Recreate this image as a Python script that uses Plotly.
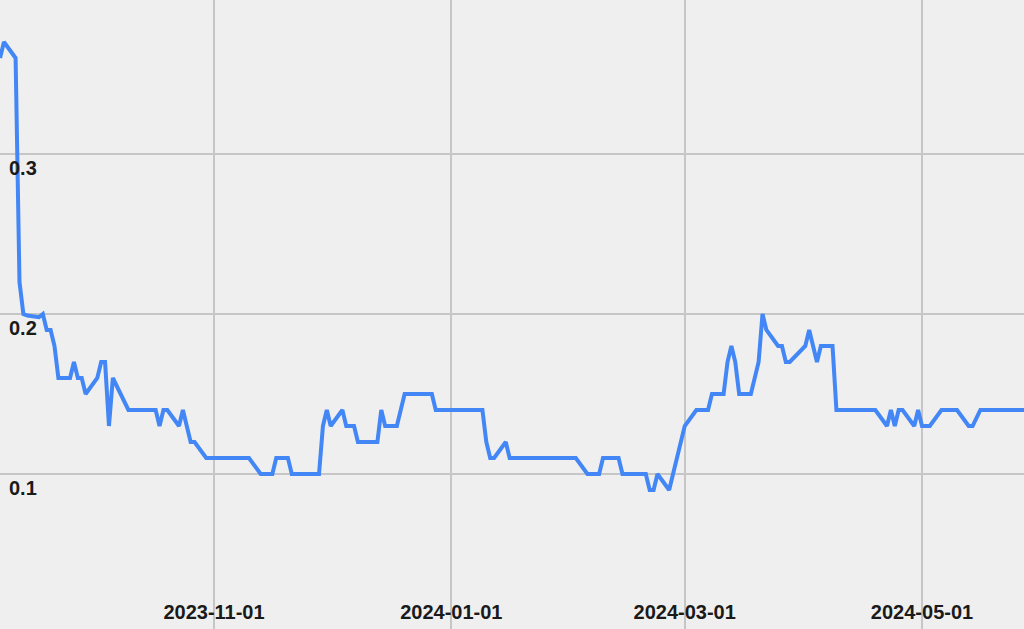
import plotly.graph_objects as go

dates = [
    "2023-09-07", "2023-09-08", "2023-09-11", "2023-09-12", "2023-09-13", "2023-09-14",
    "2023-09-17", "2023-09-18", "2023-09-19", "2023-09-20", "2023-09-21", "2023-09-22",
    "2023-09-25", "2023-09-26", "2023-09-27", "2023-09-28", "2023-09-29", "2023-10-02",
    "2023-10-03", "2023-10-04", "2023-10-05", "2023-10-06", "2023-10-10", "2023-10-17",
    "2023-10-18", "2023-10-19", "2023-10-20", "2023-10-23", "2023-10-24", "2023-10-26",
    "2023-10-27", "2023-10-30", "2023-11-10", "2023-11-13", "2023-11-16", "2023-11-17",
    "2023-11-20", "2023-11-21", "2023-11-28", "2023-11-29", "2023-11-30", "2023-12-01",
    "2023-12-04", "2023-12-05", "2023-12-07", "2023-12-08", "2023-12-13", "2023-12-14",
    "2023-12-15", "2023-12-18", "2023-12-20", "2023-12-27", "2023-12-28", "2024-01-09",
    "2024-01-10", "2024-01-11", "2024-01-12", "2024-01-15", "2024-01-16", "2024-02-02",
    "2024-02-05", "2024-02-08", "2024-02-09", "2024-02-13", "2024-02-14", "2024-02-20",
    "2024-02-21", "2024-02-22", "2024-02-23", "2024-02-26", "2024-03-01", "2024-03-04",
    "2024-03-07", "2024-03-08", "2024-03-11", "2024-03-12", "2024-03-13", "2024-03-14",
    "2024-03-15", "2024-03-18", "2024-03-20", "2024-03-21", "2024-03-22", "2024-03-25",
    "2024-03-26", "2024-03-27", "2024-03-28", "2024-04-01", "2024-04-02", "2024-04-04",
    "2024-04-05", "2024-04-08", "2024-04-09", "2024-04-19", "2024-04-22", "2024-04-23",
    "2024-04-24", "2024-04-25", "2024-04-26", "2024-04-29", "2024-04-30", "2024-05-01",
    "2024-05-03", "2024-05-06", "2024-05-10", "2024-05-13", "2024-05-14", "2024-05-16",
    "2024-05-31",
]

values = [
    0.36, 0.37, 0.36, 0.22, 0.20, 0.199,
    0.198, 0.20, 0.19, 0.19, 0.18, 0.16,
    0.16, 0.17, 0.16, 0.16, 0.15, 0.16,
    0.17, 0.17, 0.13, 0.16, 0.14, 0.14,
    0.13, 0.14, 0.14, 0.13, 0.14, 0.12,
    0.12, 0.11, 0.11, 0.10, 0.10, 0.11,
    0.11, 0.10, 0.10, 0.13, 0.14, 0.13,
    0.14, 0.13, 0.13, 0.12, 0.12, 0.14,
    0.13, 0.13, 0.15, 0.15, 0.14, 0.14,
    0.12, 0.11, 0.11, 0.12, 0.11, 0.11,
    0.10, 0.10, 0.11, 0.11, 0.10, 0.10,
    0.09, 0.09, 0.10, 0.09, 0.13, 0.14,
    0.14, 0.15, 0.15, 0.17, 0.18, 0.17,
    0.15, 0.15, 0.17, 0.20, 0.19, 0.18,
    0.18, 0.17, 0.17, 0.18, 0.19, 0.17,
    0.18, 0.18, 0.14, 0.14, 0.13, 0.14,
    0.13, 0.14, 0.14, 0.13, 0.14, 0.13,
    0.13, 0.14, 0.14, 0.13, 0.13, 0.14,
    0.14,
]

x_ticks = ["2023-11-01", "2024-01-01", "2024-03-01", "2024-05-01"]
x_tick_labels = ["2023-11-01", "2024-01-01", "2024-03-01", "2024-05-01"]
y_ticks = [0.1, 0.2, 0.3]
y_tick_labels = ["0.1", "0.2", "0.3"]

fig = go.Figure()
fig.add_trace(go.Scatter(
    x=dates, y=values, mode="lines",
    line=dict(color="#4287f5", width=4),
    showlegend=False,
))

label_font = dict(family="Liberation Sans, Arial, sans-serif", size=20, color="#1a1a1a", weight="bold")

fig.update_layout(
    width=1024, height=629,
    margin=dict(l=0, r=0, t=0, b=0),
    paper_bgcolor="#efefef",
    plot_bgcolor="#efefef",
    xaxis=dict(
        range=["2023-09-06 23:45", "2024-05-27 05:15"],
        tickvals=x_ticks, ticktext=x_tick_labels,
        showgrid=True, gridcolor="#c6c6c6", gridwidth=2,
        zeroline=False, showline=False, ticks="",
        ticklabelposition="inside", ticklabelstandoff=3,
        tickfont=label_font,
    ),
    yaxis=dict(
        range=[0.003125, 0.39625],
        tickvals=y_ticks, ticktext=y_tick_labels,
        showgrid=True, gridcolor="#c6c6c6", gridwidth=2,
        zeroline=False, showline=False, ticks="",
        ticklabelposition="inside", ticklabelstandoff=6, ticklabelshift=14,
        tickfont=label_font,
    ),
)

fig.write_html(
    "out.html",
    config={"displayModeBar": False},
    post_script="document.body.style.margin='0';document.body.style.overflow='hidden';",
)
